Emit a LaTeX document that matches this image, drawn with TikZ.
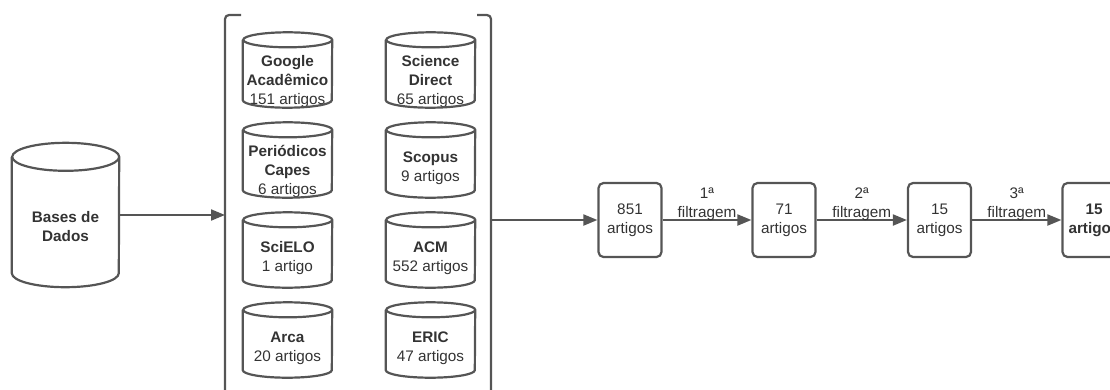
\documentclass[tikz,border=0pt]{standalone}
\usepackage{fontspec}
\setmainfont{Liberation Sans}
\usetikzlibrary{arrows.meta}
\definecolor{linegray}{RGB}{85,85,85}
\definecolor{textgray}{RGB}{51,51,51}
\tikzset{
    every node/.style={font=\fontsize{15.3}{19}\selectfont, text=textgray},
    base/.style={minimum width=89pt, minimum height=75pt, inner sep=0pt},
    bigbase/.style={minimum width=107pt, minimum height=144pt, inner sep=0pt},
    dbtext/.style={yshift=-8.5pt, align=center},
    count/.style={rounded corners=5pt, draw=linegray, line width=2.2pt,
        minimum width=63pt, minimum height=74pt, align=center},
    link/.style={draw=linegray, line width=2pt, -{Triangle[length=14pt, width=11pt]}},
    step label/.style={above, align=center, inner sep=0pt, yshift=-1.5pt}
}
% cylinder outline round a named node: name, x radius, y radius
\newcommand{\dbshape}[3]{%
	\draw[linegray, line width=2.2pt]
		([yshift=-#3]#1.north west) -- ([yshift=#3]#1.south west)
		arc[start angle=180, end angle=360, x radius=#2, y radius=#3]
		-- ([yshift=-#3]#1.north east)
		arc[start angle=0, end angle=360, x radius=#2, y radius=#3];
}

\begin{document}
\begin{tikzpicture}[x=1pt, y=-1pt]
	\useasboundingbox (0,0) rectangle (1110,389);
	\clip (0,0) rectangle (1110,389);

	% source
	\node (bases) [bigbase, label={[dbtext, yshift=-3pt]center:{\textbf{Bases de}\\\textbf{Dados}}}] at (65.5,215) {};
	\dbshape{bases}{53.5pt}{14pt}

	% bracket with the eight databases
	\draw[linegray, line width=2.2pt, rounded corners=4pt] (241,15) -- (225,15) -- (225,400);
	\draw[linegray, line width=2.2pt, rounded corners=4pt] (477,15) -- (491,15) -- (491,400);
	\coordinate (brL) at (225,215);
	\coordinate (brR) at (491,220);

	\node (google) [base, label={[dbtext, yshift=-3pt]center:{\textbf{Google}\\\textbf{Acadêmico}\\151 artigos}}] at (287.5,70) {};
	\node (capes) [base, label={[dbtext, yshift=-3pt]center:{\textbf{Periódicos}\\\textbf{Capes}\\6 artigos}}] at (287.5,160) {};
	\node (scielo) [base, label={[dbtext]center:{\textbf{SciELO}\\1 artigo}}] at (287.5,250) {};
	\node (arca) [base, label={[dbtext]center:{\textbf{Arca}\\20 artigos}}] at (287.5,340) {};
	\node (sdirect) [base, label={[dbtext, yshift=-3pt]center:{\textbf{Science}\\\textbf{Direct}\\65 artigos}}] at (430.5,70) {};
	\node (scopus) [base, label={[dbtext]center:{\textbf{Scopus}\\9 artigos}}] at (430.5,160) {};
	\node (acm) [base, label={[dbtext]center:{\textbf{ACM}\\552 artigos}}] at (430.5,250) {};
	\node (eric) [base, label={[dbtext]center:{\textbf{ERIC}\\47 artigos}}] at (430.5,340) {};
	\foreach \db in {google, capes, scielo, arca, sdirect, scopus, acm, eric}
		{\dbshape{\db}{44.5pt}{7.5pt}}

	% filtering steps
	\node (c851) [count] at (630,220) {851\\artigos};
	\node (c71) [count] at (784,220) {71\\artigos};
	\node (c15) [count] at (939.5,220) {15\\artigos};
	\node (final) [count, font=\fontsize{15.3}{19}\selectfont\bfseries] at (1094,220) {15\\artigos};

	\draw[link] (bases.east) -- (brL);
	\draw[link] (brR) -- (c851.west);
	\draw[link] (c851) -- node[step label] (f1) {1ª\\filtragem} (c71);
	\draw[link] (c71) -- node[step label] (f2) {2ª\\filtragem} (c15);
	\draw[link] (c15) -- node[step label] (f3) {3ª\\filtragem} (final);
\end{tikzpicture}
\end{document}
